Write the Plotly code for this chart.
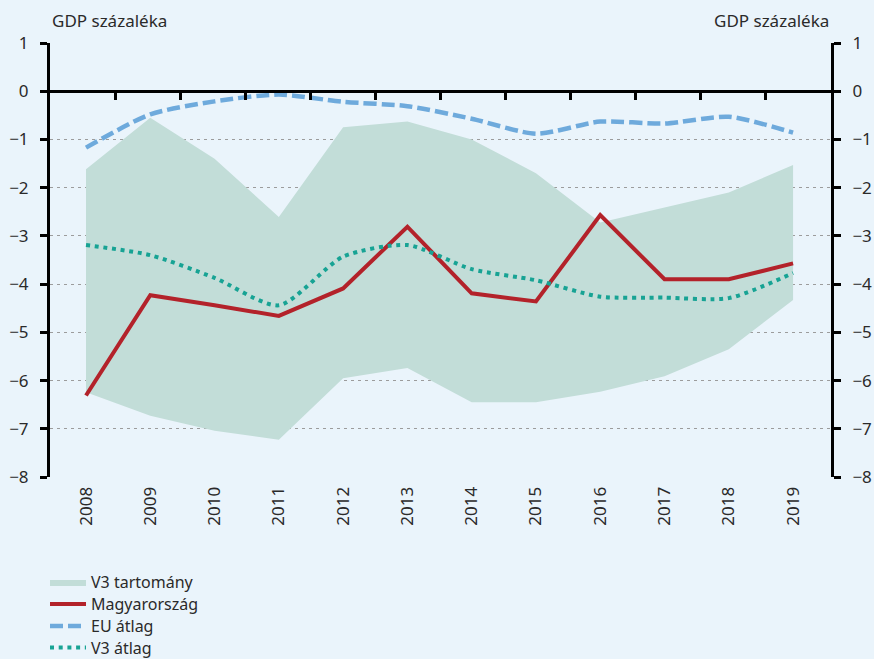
import plotly.graph_objects as go

years = [2008, 2009, 2010, 2011, 2012, 2013, 2014, 2015, 2016, 2017, 2018, 2019]
year_labels = [str(y) for y in years]
hungary = [-6.31, -4.23, -4.44, -4.66, -4.09, -2.81, -4.19, -4.36, -2.57, -3.90, -3.90, -3.57]
eu_avg = [-1.17, -0.48, -0.21, -0.07, -0.22, -0.31, -0.57, -0.88, -0.63, -0.67, -0.53, -0.86]
v3_avg = [-3.19, -3.40, -3.87, -4.44, -3.43, -3.19, -3.69, -3.92, -4.26, -4.28, -4.29, -3.77]
v3_upper = [-1.62, -0.55, -1.40, -2.61, -0.745, -0.63, -1.00, -1.70, -2.72, -2.41, -2.10, -1.53]
v3_lower = [-6.24, -6.73, -7.04, -7.23, -5.95, -5.74, -6.45, -6.45, -6.23, -5.91, -5.35, -4.33]
y_ticks = [1, 0, -1, -2, -3, -4, -5, -6, -7, -8]
boundary_ticks = list(range(1, 12))

BG = "#eaf4fb"
FILL = "#c2ddd8"
RED = "#b3222a"
BLUE = "#6eaadc"
TEAL = "#17a394"
TXT = "#2a2a2a"
FONT = "Noto Sans"
W, H = 874, 659

fig = go.Figure()
fig.add_trace(go.Scatter(x=years, y=v3_lower, mode="lines", line=dict(width=0, color=FILL),
                         showlegend=False, hoverinfo="skip"))
fig.add_trace(go.Scatter(x=years, y=v3_upper, mode="lines", line=dict(width=0, color=FILL),
                         fill="tonexty", fillcolor=FILL, name="V3 tartomány", legend="legend"))
fig.add_trace(go.Scatter(x=years, y=hungary, mode="lines", line=dict(width=4, color=RED),
                         name="Magyarország", legend="legend2"))
fig.add_trace(go.Scatter(x=years, y=eu_avg, mode="lines",
                         line=dict(width=4.5, color=BLUE, dash="13px,5px", shape="spline", smoothing=0.7),
                         name="EU átlag", legend="legend3"))
fig.add_trace(go.Scatter(x=years, y=v3_avg, mode="lines",
                         line=dict(width=4, color=TEAL, dash="4px,4.7px", shape="spline", smoothing=0.7),
                         name="V3 átlag", legend="legend4"))
# helper trace for the boundary tick axis drawn at y = 0
fig.add_trace(go.Scatter(x=[0, 12], y=[0, 0], xaxis="x2", mode="lines",
                         line=dict(width=0, color="rgba(0,0,0,0)"), showlegend=False, hoverinfo="skip"))
# helper trace to make the right axis appear
fig.add_trace(go.Scatter(x=years[:1], y=[None], yaxis="y2", showlegend=False, hoverinfo="skip"))

axis_common = dict(range=[-8, 1], tickvals=y_ticks, showline=True, linecolor="black", linewidth=3,
                   ticks="outside", ticklen=7, tickwidth=3, tickcolor="black", automargin=False,
                   tickfont=dict(family=FONT, size=17, color=TXT), zeroline=False, ticklabelstandoff=8)


def leg(center_px):
    return dict(xref="paper", x=-0.0064, xanchor="left", yref="container", y=1 - center_px / H,
                yanchor="middle", bgcolor="rgba(0,0,0,0)", itemwidth=36,
                font=dict(family=FONT, size=16, color=TXT))


fig.update_layout(
    width=W, height=H,
    margin=dict(l=50, r=43, t=43, b=H - 477),
    paper_bgcolor=BG, plot_bgcolor=BG,
    font=dict(family=FONT, size=17, color=TXT),
    hovermode=False,
    xaxis=dict(range=[2007.44, 2019.59], tickvals=years, ticktext=year_labels, tickangle=-90,
               showline=False, showgrid=False, zeroline=False, ticks="outside", ticklen=2, automargin=False,
               tickcolor="rgba(0,0,0,0)", tickfont=dict(family=FONT, size=17, color=TXT)),
    xaxis2=dict(range=[0, 12], overlaying="x", anchor="free", position=8 / 9, tickvals=boundary_ticks,
                showticklabels=False, showline=True, linecolor="black", linewidth=3, automargin=False,
                ticks="outside", ticklen=7, tickwidth=3, tickcolor="black", showgrid=False, zeroline=False),
    yaxis=dict(**axis_common, showgrid=True, gridcolor="#9c9c9c", gridwidth=1.3, griddash="3px,4px"),
    yaxis2=dict(**axis_common, overlaying="y", side="right", showgrid=False, matches="y"),
    legend=leg(582), legend2=leg(604), legend3=leg(626), legend4=leg(647.5),
    annotations=[
        dict(text="GDP százaléka", xref="paper", yref="paper", x=0, y=1.0507, xanchor="left",
             yanchor="middle", showarrow=False, font=dict(family=FONT, size=17, color=TXT)),
        dict(text="GDP százaléka", xref="paper", yref="paper", x=1, y=1.0507, xanchor="right",
             yanchor="middle", showarrow=False, font=dict(family=FONT, size=17, color=TXT)),
    ],
)

fig.write_html(
    "out.html",
    config={"displayModeBar": False},
    post_script="document.body.style.margin='0';document.body.style.overflow='hidden';"
                "document.documentElement.style.overflow='hidden';",
)
